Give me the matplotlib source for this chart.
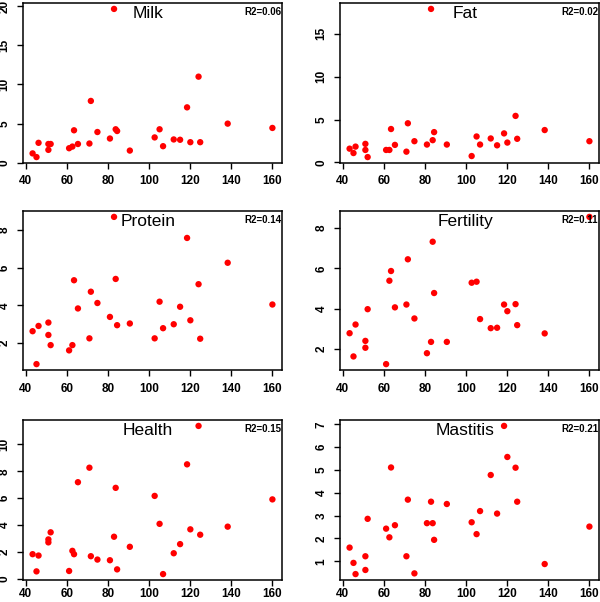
import matplotlib
matplotlib.use("Agg")
import matplotlib.pyplot as plt

# --- data ---
x_vals = [43.3, 45.2, 46.2, 51.0, 51.0, 52.1, 61.1, 62.7, 63.5, 65.4, 71.0, 71.7, 74.9, 81.0, 83.0,
          83.8, 84.5, 90.7, 102.8, 105.2, 106.9, 112.1, 115.2, 118.6, 120.2, 124.2, 125.0, 138.4, 160.2]

milk = [1.2, 0.73, 2.55, 2.4, 1.65, 2.4, 1.86, 2.07, 4.15, 2.4, 2.46, 7.9, 3.93, 3.1, 19.65,
        4.28, 4.06, 1.56, 3.24, 4.28, 2.12, 2.98, 2.94, 7.08, 2.63, 11.0, 2.63, 5.0, 4.45]
fat = [1.61, 1.10, 1.85, 2.17, 1.46, 0.63, 1.46, 1.46, 3.9, 2.05, 1.26, 4.57, 2.48, 2.09, 17.9,
       2.6, 3.54, 2.09, 0.75, 3.03, 2.09, 2.8, 2.0, 3.39, 2.32, 5.43, 2.76, 3.78, 2.48]
protein = [2.63, 0.88, 2.91, 3.09, 2.43, 1.89, 1.61, 1.89, 5.34, 3.84, 2.25, 4.73, 4.13, 3.39, 8.71,
           5.41, 2.95, 3.04, 2.25, 4.2, 2.79, 3.0, 3.93, 7.59, 3.21, 5.13, 2.23, 6.27, 4.05]
fertility = [2.79, 1.64, 3.22, 2.41, 2.07, 3.98, 1.26, 5.39, 5.87, 4.07, 4.21, 6.45, 3.52, 1.80, 2.36,
             7.32, 4.78, 2.36, 5.29, 5.34, 3.49, 3.04, 3.06, 4.21, 3.88, 4.23, 3.19, 2.78, 8.55]
health = [1.83, 0.55, 1.73, 2.71, 2.93, 3.46, 0.58, 2.08, 1.83, 7.19, 8.27, 1.68, 1.43, 1.38, 3.13,
          6.77, 0.70, 2.38, 6.17, 4.09, 0.35, 1.90, 2.58, 8.52, 3.68, 11.38, 3.28, 3.88, 5.91]
mastitis = [1.60, 0.93, 0.44, 1.22, 0.62, 2.86, 2.43, 2.05, 5.11, 2.58, 1.22, 3.70, 0.47, 2.67, 3.61,
            2.67, 1.94, 3.51, 2.71, 2.19, 3.20, 4.78, 3.09, 6.93, 5.57, 5.10, 3.61, 0.88, 2.52]

titles = ["Milk", "Fat", "Protein", "Fertility", "Health", "Mastitis"]
r2_labels = ["R2=0.06", "R2=0.02", "R2=0.14", "R2=0.11", "R2=0.15", "R2=0.21"]
x_ticks = [40, 60, 80, 100, 120, 140, 160]
y_ticks = [
    [0, 5, 10, 15, 20],
    [0, 5, 10, 15],
    [2, 4, 6, 8],
    [2, 4, 6, 8],
    [0, 2, 4, 6, 8, 10],
    [1, 2, 3, 4, 5, 6, 7],
]
series = [milk, fat, protein, fertility, health, mastitis]

plt.rcParams['font.family'] = ['Liberation Sans', 'DejaVu Sans']

fig = plt.figure(figsize=(6, 6.02), dpi=100)

# axes boxes in pixels (left, top, right, bottom)
W, H = 600, 602
boxes = [
    (23, 3, 282, 163), (340, 3, 599, 163),
    (23, 211, 282, 370), (340, 211, 599, 370),
    (23, 420, 282, 580), (340, 420, 599, 580),
]

for i, (l, t, r, b) in enumerate(boxes):
    ax = fig.add_axes([l / W, 1 - b / H, (r - l) / W, (b - t) / H])
    ax.scatter(x_vals, series[i], s=21, color='#ff0000', edgecolors='none', zorder=3)
    ax.margins(x=0.04, y=0.04)
    ax.set_xticks(x_ticks)
    ax.set_yticks(y_ticks[i])
    ax.set_yticklabels([str(v) for v in y_ticks[i]], rotation=90, va='center')
    ax.tick_params(direction='out', length=4, width=1.0, labelsize=8.5, pad=5, colors='black')
    if i >= 4:
        # bottom row: pull labels up a little so they stay inside the image
        ax.tick_params(axis='x', pad=2)
    for lab in ax.get_xticklabels() + ax.get_yticklabels():
        lab.set_fontweight('bold')
    for sp in ax.spines.values():
        sp.set_linewidth(1.1)
    ax.text(0.483, 0.935, titles[i], transform=ax.transAxes, ha='center', va='center',
            fontsize=12.5)
    ax.text(0.997, 0.945, r2_labels[i], transform=ax.transAxes, ha='right', va='center',
            fontsize=7, fontweight='bold')

fig.savefig("out.png", dpi=100)
